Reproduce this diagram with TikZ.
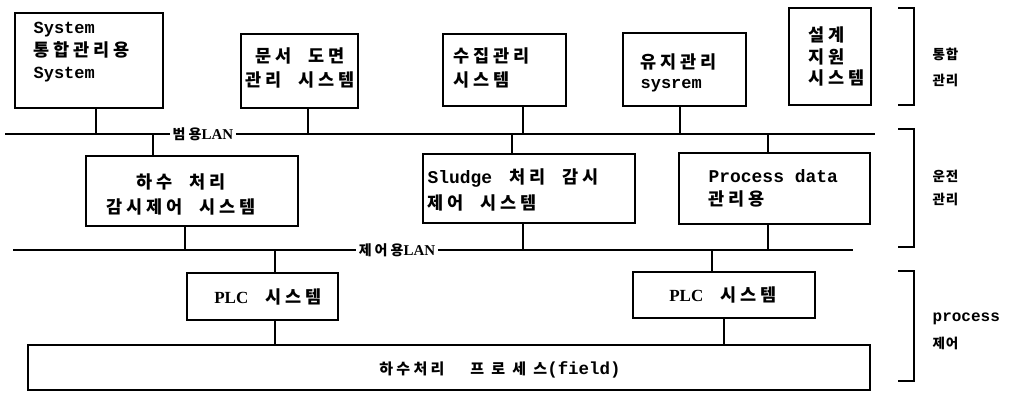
\documentclass[tikz,border=0pt]{standalone}
\usepackage{fontspec}
\newfontfamily\krf[LetterSpace=22,WordSpace=2.2]{Noto Sans CJK KR}
\newfontfamily\krw[LetterSpace=48]{Noto Sans CJK KR}
\newfontfamily\krn[LetterSpace=6]{Noto Sans CJK KR}
\newfontfamily\monof[Scale=0.97]{Liberation Mono}
\newfontfamily\romf{Liberation Serif}
\newcommand\M[1]{{\monof\bfseries #1}}
\newcommand\R[1]{{\romf #1}}
\begin{document}
\begin{tikzpicture}[x=1pt,y=-1pt,line width=1.3pt,
  box/.style={draw,inner sep=0pt},
  txt/.style={inner sep=0pt,font=\fontsize{17.5}{22}\selectfont\krf\bfseries},
  lab/.style={inner sep=2pt,font=\fontsize{14}{16}\selectfont\krf\bfseries},
  side/.style={inner sep=0pt,anchor=west,align=left}]
\useasboundingbox (0,0) rectangle (1021,392);

% boxes
\node[box,minimum width=148pt,minimum height=95pt] (A) at (89,60.5) {};
\node[box,minimum width=117pt,minimum height=74pt] (B) at (299.5,71) {};
\node[box,minimum width=123pt,minimum height=72pt] (C) at (504.5,70) {};
\node[box,minimum width=123pt,minimum height=73pt] (D) at (684.5,69.5) {};
\node[box,minimum width=82pt,minimum height=97pt] (E) at (830,56.5) {};
\node[box,minimum width=212pt,minimum height=70pt] (F) at (192,191) {};
\node[box,minimum width=212pt,minimum height=69pt] (G) at (529,188.5) {};
\node[box,minimum width=191pt,minimum height=71pt] (H) at (774.5,188.5) {};
\node[box,minimum width=151pt,minimum height=47pt] (P1) at (262.5,296.5) {};
\node[box,minimum width=182pt,minimum height=46pt] (P2) at (724,295) {};
\node[box,minimum width=842pt,minimum height=45pt] (field) at (449,367.5) {};

% texts
\node[txt,align=left,anchor=west,font=\fontsize{17.5}{22.5}\selectfont\krf\bfseries] (At) at (33,52.5) {\M{System}\\통합관리용\\\M{System}};
\node[txt,align=center,font=\fontsize{17.5}{24}\selectfont\krf\bfseries] (Bt) at (300,68) {문서 도면\\관리 시스템};
\node[txt,align=left,anchor=west,font=\fontsize{17.5}{24}\selectfont\krf\bfseries] (Ct) at (453,68) {수집관리\\시스템};
\node[txt,align=left,anchor=west,font=\fontsize{17.5}{20.5}\selectfont\krf\bfseries] (Dt) at (640,73) {유지관리\\\M{sysrem}};
\node[txt,align=left,anchor=west,font=\fontsize{17.5}{21.5}\selectfont\krf\bfseries] (Et) at (808,56.5) {설계\\지원\\시스템};
\node[txt,align=center,font=\fontsize{17.5}{25}\selectfont\krf\bfseries] (Ft) at (181,194.5) {하수 처리\\감시제어 시스템};
\node[txt,align=left,anchor=west,font=\fontsize{17.5}{25.5}\selectfont\krf\bfseries] (Gt) at (427,190) {{\monof\bfseries\fontsize{18.5}{20}\selectfont Sludge} 처리 감시\\제어 시스템};
\node[txt,align=left,anchor=west,font=\fontsize{17.5}{23}\selectfont\krf\bfseries] (Ht) at (708,188.5) {{\monof\bfseries\fontsize{18.5}{20}\selectfont Process data}\\관리용};
\node[txt] (P1t) at (268,297) {\R{\fontsize{17}{20}\selectfont PLC} 시스템};
\node[txt] (P2t) at (723,295) {\R{\fontsize{17}{20}\selectfont PLC} 시스템};
\node[txt,font=\fontsize{15}{16}\selectfont\krf\bfseries] (Fdt) at (500,370) {하수처리\hspace{26pt}{\krw 프로세스}{\monof\bfseries\fontsize{18}{20}\selectfont(field)}};

% LAN labels and lines
\node[lab] (lan1) at (203,134) {범용{\romf\bfseries\fontsize{15}{16}\selectfont LAN}};
\node[lab] (lan2) at (397,250) {제어용{\romf\bfseries\fontsize{15}{16}\selectfont LAN}};
\coordinate (L1a) at (5,134);
\coordinate (L1b) at (875,134);
\coordinate (L2a) at (13,250);
\coordinate (L2b) at (853,250);
\draw (L1a) -- (lan1.west);
\draw (lan1.east) -- (L1b);
\draw (L2a) -- (lan2.west);
\draw (lan2.east) -- (L2b);

% taps on LAN 1
\coordinate (jA) at (96,134);
\coordinate (jB) at (308,134);
\coordinate (jC) at (523,134);
\coordinate (jD) at (680,134);
\coordinate (jF) at (153,134);
\coordinate (jG) at (512,134);
\coordinate (jH) at (768,134);
\draw (jA) -- (jA |- A.south);
\draw (jB) -- (jB |- B.south);
\draw (jC) -- (jC |- C.south);
\draw (jD) -- (jD |- D.south);
\draw (jF) -- (jF |- F.north);
\draw (jG) -- (jG |- G.north);
\draw (jH) -- (jH |- H.north);

% taps on LAN 2
\coordinate (kF) at (185,250);
\coordinate (kG) at (523,250);
\coordinate (kH) at (768,250);
\coordinate (kP1) at (275,250);
\coordinate (kP2) at (712,250);
\draw (kF) -- (kF |- F.south);
\draw (kG) -- (kG |- G.south);
\draw (kH) -- (kH |- H.south);
\draw (kP1) -- (kP1 |- P1.north);
\draw (kP2) -- (kP2 |- P2.north);

% PLC to field
\draw (kP1 |- P1.south) -- (kP1 |- field.north);
\draw (P2.south) -- (P2.south |- field.north);

% brackets
\draw (898,8) -- (914,8) -- (914,105) -- (898,105);
\draw (898,129) -- (914,129) -- (914,247) -- (898,247);
\draw (898,271) -- (914,271) -- (914,381) -- (898,381);

% side labels
\node[side,font=\fontsize{13.5}{26}\selectfont\krn\bfseries] (S1) at (932,67) {통합\\관리};
\node[side,font=\fontsize{13.5}{23}\selectfont\krn\bfseries] (S2) at (932,188) {운전\\관리};
\node[side,font=\fontsize{13.5}{27}\selectfont\krn\bfseries] (S3) at (932,331.5) {{\monof\bfseries\fontsize{16.5}{27}\selectfont process}\\제어};
\end{tikzpicture}
\end{document}
